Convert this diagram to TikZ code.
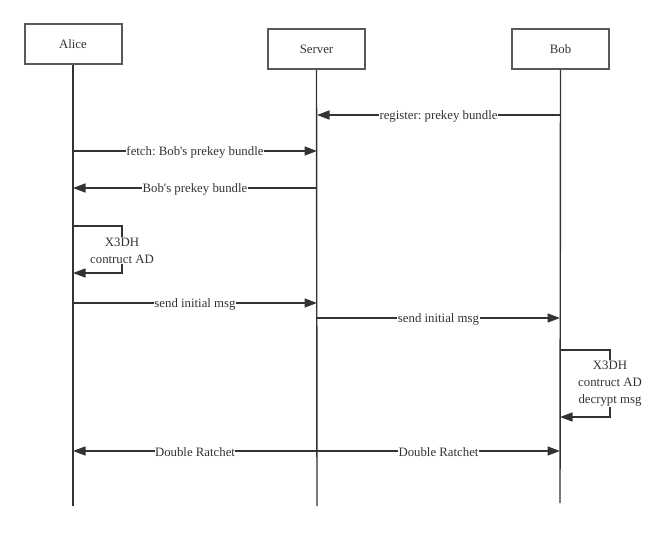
\documentclass[tikz,border=0pt]{standalone}
\usepackage{fontspec}
\setmainfont{Liberation Serif}
\frenchspacing
\usetikzlibrary{arrows.meta}
\begin{document}
\begin{tikzpicture}[x=1pt,y=-1pt,
  actor/.style={draw=black!65,line width=2pt,minimum width=97pt,minimum height=40pt,inner sep=0pt,font=\fontsize{12.8}{15}\selectfont,text=black!80},
  life/.style={draw=black!80,line width=1.4pt},
  msg/.style={draw=black!80,line width=1.5pt,-{Triangle[length=12.5pt,width=9pt]}},
  lbl/.style={fill=white,inner sep=0.5pt,yshift=-1.5pt,font=\fontsize{12.8}{15}\selectfont,text=black!80},
  note/.style={fill=white,inner sep=1pt,align=center,font=\fontsize{12.8}{17}\selectfont,text=black!80}]
\useasboundingbox (0,0) rectangle (668,532);
% actors
\node[actor] (alice) at (73,44.5) {Alice};
\node[actor] (server) at (316.5,49) {Server};
\node[actor] (bob) at (560.5,49) {Bob};
% lifeline ends
\coordinate (aEnd) at (73,506);
\coordinate (sEnd) at (317,506);
\coordinate (bEnd) at (560,503);
\draw[life] (alice.south) -- (aEnd);
\draw[life] (server.south) -- (sEnd);
\draw[life] (bob.south) -- (bEnd);
% message points
\coordinate (b1) at (560,115); \coordinate (s1) at (317,115);
\coordinate (a2) at (73,151); \coordinate (s2) at (317,151);
\coordinate (s3) at (317,188); \coordinate (a3) at (73,188);
\coordinate (a4) at (73,226); \coordinate (a4r) at (122,226);
\coordinate (a5r) at (122,273); \coordinate (a5) at (73,273);
\coordinate (a6) at (73,303); \coordinate (s6) at (317,303);
\coordinate (s7) at (317,318); \coordinate (b7) at (560,318);
\coordinate (b8) at (560,350); \coordinate (b8r) at (610,350);
\coordinate (b9r) at (610,417); \coordinate (b9) at (560,417);
\coordinate (a10) at (73,451); \coordinate (s10) at (317,451); \coordinate (b10) at (560,451);
% messages
\draw[msg] (b1) -- node[lbl] (m1) {register: prekey bundle} (s1);
\draw[msg] (a2) -- node[lbl] (m2) {fetch: Bob\textquotesingle s prekey bundle} (s2);
\draw[msg] (s3) -- node[lbl] (m3) {Bob\textquotesingle s prekey bundle} (a3);
\draw[msg] (a4) -- (a4r) -- node[note,yshift=-1pt] (m4) {X3DH\\contruct AD} (a5r) -- (a5);
\draw[msg] (a6) -- node[lbl] (m6) {send initial msg} (s6);
\draw[msg] (s7) -- node[lbl] (m7) {send initial msg} (b7);
\draw[msg] (b8) -- (b8r) -- node[note] (m8) {X3DH\\contruct AD\\decrypt msg} (b9r) -- (b9);
\draw[msg] (s10) -- node[lbl] (m10) {Double Ratchet} (a10);
\draw[msg] (s10) -- node[lbl] (m11) {Double Ratchet} (b10);
\end{tikzpicture}
\end{document}
